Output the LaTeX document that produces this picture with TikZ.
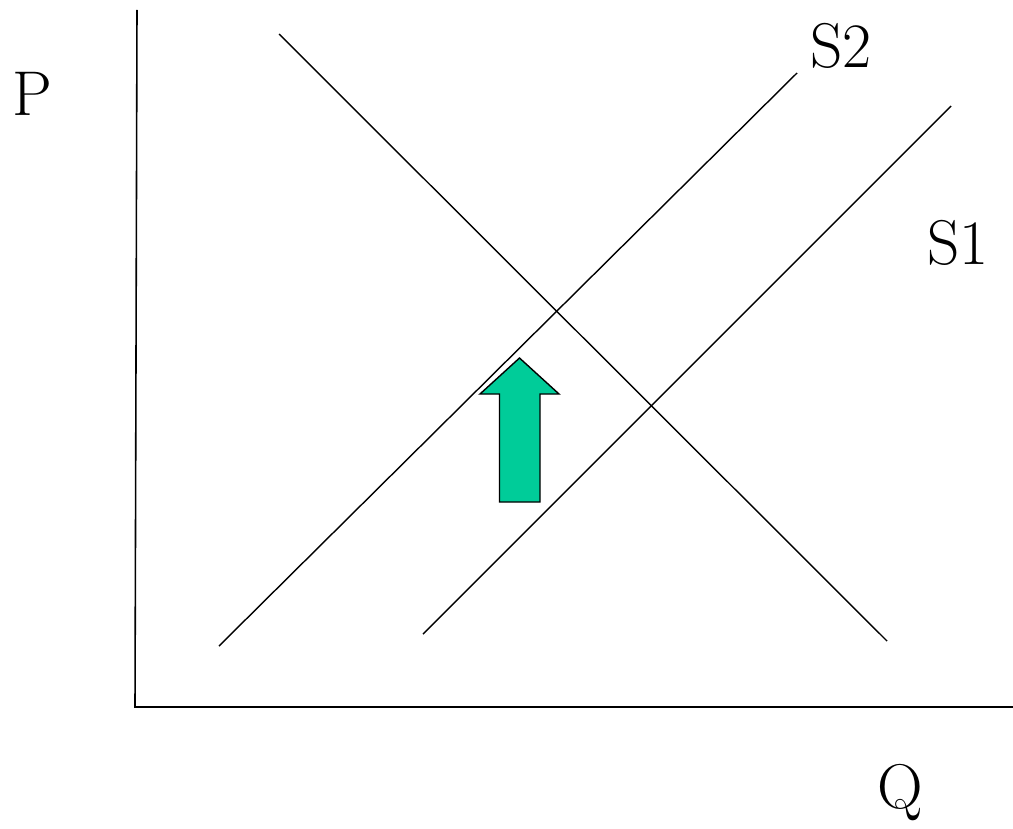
\documentclass[tikz,border=0pt]{standalone}
\usepackage{tikz}
\usetikzlibrary{positioning}
\definecolor{shiftgreen}{RGB}{0,204,153}

\begin{document}
\begin{tikzpicture}[x=0.02cm,y=-0.02cm,
    curve/.style={line width=0.8pt},
    axis/.style={line width=0.9pt},
    lbl/.style={font=\fontsize{36}{40}\selectfont, inner sep=0pt}]
    \useasboundingbox (0,0) rectangle (1013,828);

    % axes
    \coordinate (top) at (137,10);
    \coordinate (origin) at (135,707);
    \coordinate (right) at (1013,707);
    \draw[axis] (top) -- (origin) -- (right);
    \node[lbl] (P) at (32,94) {P};
    \node[lbl] (Q) at (900,793) {Q};

    % demand
    \coordinate (d1) at (279,34);
    \coordinate (d2) at (887,641);
    \draw[curve] (d1) -- (d2);

    % supply curves
    \coordinate (s2a) at (219,646);
    \coordinate (s2b) at (797,73);
    \draw[curve] (s2a) -- (s2b);
    \node[lbl] (S2) at (841,46) {S2};

    \coordinate (s1a) at (423,634);
    \coordinate (s1b) at (951,106);
    \draw[curve] (s1a) -- (s1b);
    \node[lbl] (S1) at (958,243) {S1};

    % shift arrow
    \draw[fill=shiftgreen, line width=0.8pt, line join=miter]
        (519.5,358) -- (559,394) -- (540,394) -- (540,502) -- (499.5,502)
        -- (499.5,394) -- (480,394) -- cycle;
\end{tikzpicture}
\end{document}
